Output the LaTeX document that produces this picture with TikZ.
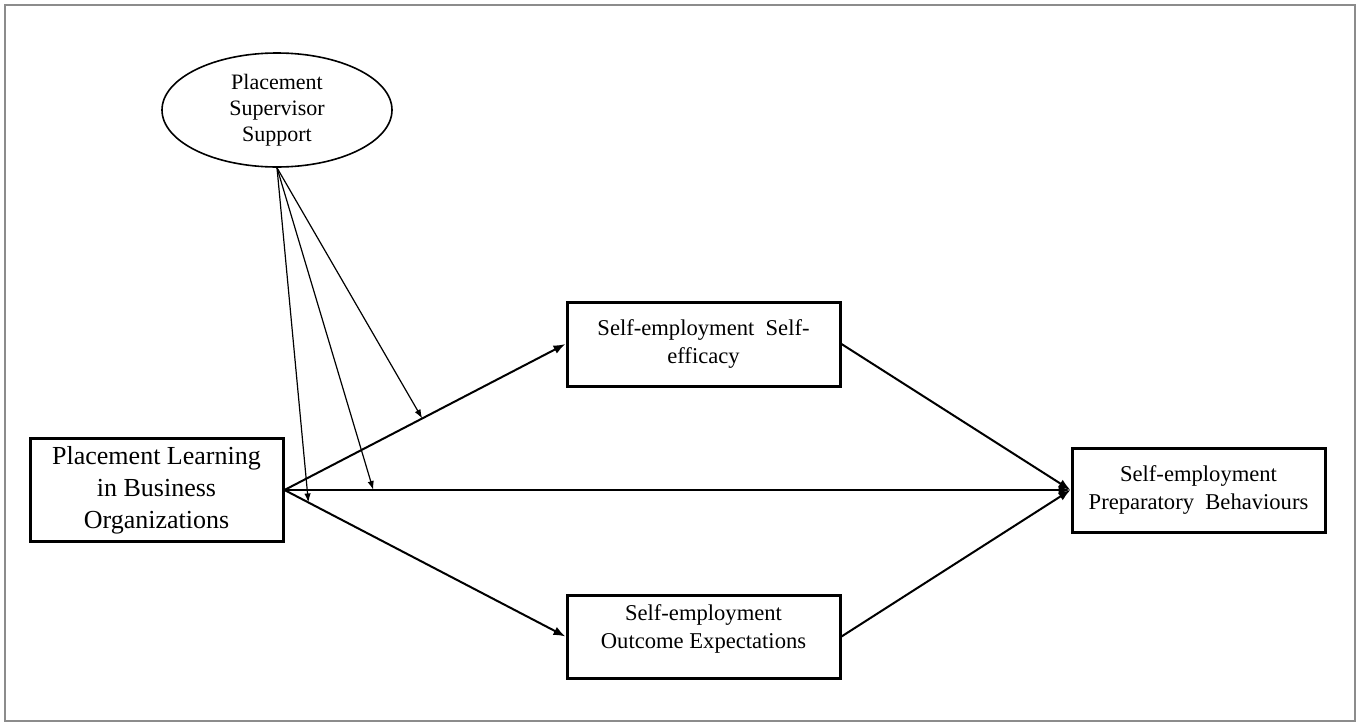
\documentclass[tikz,border=0pt]{standalone}
\usepackage{fontspec}
\setmainfont{Liberation Serif}
\usepackage{tikz}
\usetikzlibrary{
  arrows.meta,
  positioning,
  shapes.geometric,
  calc}

\begin{document}
\begin{tikzpicture}[x=0.5pt, y=-0.5pt,
  box/.style={draw, line width=1.5pt, inner sep=0pt, align=center,
              font=\fontsize{11.3}{14}\selectfont},
  mainArrow/.style={line width=1pt, -{Latex[length=6pt, width=4.5pt]}},
  modArrow/.style={line width=0.6pt, -{Latex[length=4.5pt, width=3.2pt]}}]

%frame
\useasboundingbox (0,0) rectangle (1358,723);
\draw[line width=1pt, gray!110!black] (5,5) rectangle (1355,721);

%variables
\node[draw, ellipse, line width=0.8pt, minimum width=115pt, minimum height=57pt,
      inner sep=0pt, align=center, font=\fontsize{11}{13}\selectfont]
      (pss) at (277,110) {Placement\\Supervisor\\Support};
\node[box, minimum width=126.5pt, minimum height=51.5pt,
      font=\fontsize{13}{16}\selectfont]
      (pl) at (156.5,490) {Placement Learning\\in Business\\Organizations};
\node[box, minimum width=136.5pt, minimum height=42pt]
      (se) at (703.5,344) {Self-employment\ \ Self-\\efficacy};
\node[box, minimum width=136.5pt, minimum height=41.5pt,
      label={[anchor=north, yshift=-2pt, align=center,
              font=\fontsize{11.3}{14}\selectfont]north:Self-employment\\Outcome Expectations}]
      (soe) at (703.5,636.5) {};
\node[box, minimum width=126.5pt, minimum height=42pt]
      (sepb) at (1198.5,490) {Self-employment\\Preparatory\ \ Behaviours};

%paths
\draw[mainArrow] (pl.east) -- (se.west);
\draw[mainArrow] (pl.east) -- (soe.west);
\draw[mainArrow] (pl.east) -- (sepb.west);
\draw[mainArrow] (se.east) -- (sepb.west);
\draw[mainArrow] (soe.east) -- (sepb.west);

%moderation
\path (pl.east) -- (se.west) coordinate[pos=0.49] (m1);
\path (pl.east) -- (sepb.west) coordinate[pos=0.113] (m2);
\path (pl.east) -- (soe.west) coordinate[pos=0.085] (m3);

\draw[modArrow] (pss.south) -- (m1);
\draw[modArrow] (pss.south) -- (m2);
\draw[modArrow] (pss.south) -- (m3);

\end{tikzpicture}
\end{document}
